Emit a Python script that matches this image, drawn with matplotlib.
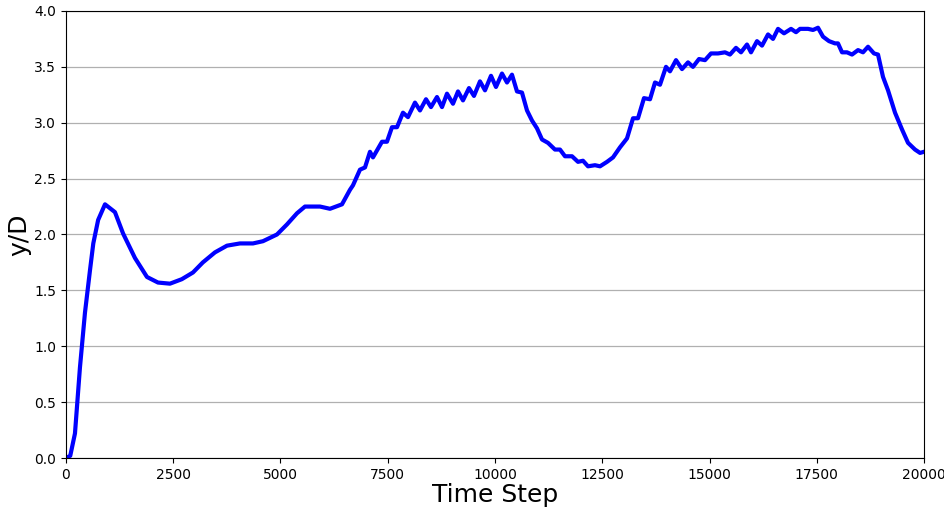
import numpy as np
from matplotlib import pyplot as plt

time_step = [0, 100, 210, 326, 443, 560, 637, 750, 910, 1142, 1330, 1608, 1888, 2145, 2424,
             2700, 2960, 3190, 3473, 3753, 4056, 4359, 4592, 4918, 5151, 5385, 5571, 5921,
             6154, 6434, 6620, 6690, 6853, 6970, 7086, 7156, 7366, 7482, 7599, 7716, 7855,
             7972, 8135, 8252, 8392, 8508, 8648, 8765, 8881, 9021, 9138, 9254, 9394, 9510,
             9650, 9767, 9907, 10023, 10163, 10280, 10396, 10513, 10629, 10746, 10862, 10979,
             11096, 11235, 11398, 11515, 11632, 11795, 11935, 12051, 12168, 12331, 12448,
             12611, 12751, 12914, 13077, 13217, 13333, 13473, 13613, 13730, 13846, 13986,
             14079, 14219, 14359, 14499, 14615, 14755, 14895, 15035, 15198, 15361, 15477,
             15617, 15734, 15874, 15967, 16107, 16224, 16364, 16480, 16597, 16737, 16900,
             17016, 17110, 17296, 17413, 17529, 17646, 17786, 17925, 17995, 18089, 18205,
             18322, 18462, 18578, 18695, 18834, 18928, 19044, 19161, 19324, 19487, 19627,
             19790, 19907, 20000]
y_over_d = [0.0, 0.02, 0.22, 0.81, 1.30, 1.68, 1.92, 2.13, 2.27, 2.20, 2.01, 1.79, 1.62, 1.57,
            1.56, 1.60, 1.66, 1.75, 1.84, 1.90, 1.92, 1.92, 1.94, 2.00, 2.09, 2.19, 2.25, 2.25,
            2.23, 2.27, 2.40, 2.44, 2.58, 2.60, 2.74, 2.69, 2.83, 2.83, 2.96, 2.96, 3.09,
            3.05, 3.18, 3.11, 3.21, 3.14, 3.23, 3.14, 3.26, 3.17, 3.28, 3.20, 3.31, 3.24,
            3.37, 3.29, 3.42, 3.32, 3.44, 3.36, 3.43, 3.28, 3.27, 3.11, 3.02, 2.95,
            2.85, 2.82, 2.76, 2.76, 2.70, 2.70, 2.65, 2.66, 2.61, 2.62, 2.61,
            2.65, 2.69, 2.78, 2.86, 3.04, 3.04, 3.22, 3.21, 3.36, 3.34, 3.50,
            3.46, 3.56, 3.48, 3.54, 3.50, 3.57, 3.56, 3.62, 3.62, 3.63, 3.61,
            3.67, 3.63, 3.70, 3.63, 3.73, 3.69, 3.79, 3.75, 3.84, 3.80, 3.84,
            3.81, 3.84, 3.84, 3.83, 3.85, 3.77, 3.73, 3.71, 3.71, 3.63, 3.63,
            3.61, 3.65, 3.63, 3.68, 3.62, 3.61, 3.41, 3.29, 3.09, 2.94, 2.82,
            2.76, 2.73, 2.74]

fig = plt.figure(figsize=(9.45, 5.08), dpi=100)
ax = fig.add_axes([0.0698, 0.0984, 0.908, 0.880])
ax.plot(time_step, y_over_d, color="blue", linewidth=3, solid_joinstyle="round")
ax.set_xlim(0, 20000)
ax.set_ylim(0, 4)
ax.set_xticks(np.arange(0, 20001, 2500))
ax.set_yticks(np.arange(0, 4.01, 0.5))
ax.grid(axis="y", color="#b0b0b0", linewidth=0.9)
ax.set_axisbelow(True)
ax.set_xlabel("Time Step", fontsize=18, labelpad=1)
ax.set_ylabel("y/D", fontsize=18, labelpad=2)
fig.savefig("out.png", dpi=100)
